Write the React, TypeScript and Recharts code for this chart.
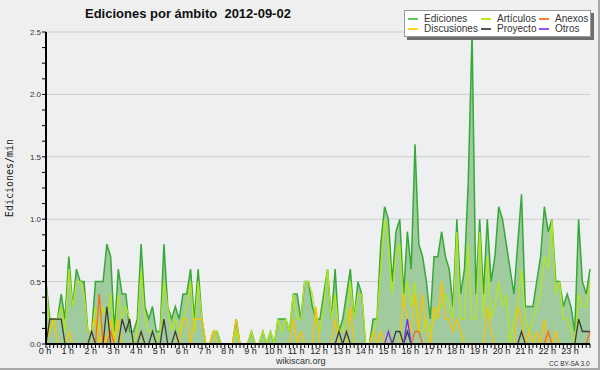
import { ComposedChart, Area, Line, XAxis, YAxis, CartesianGrid } from 'recharts';

// one slot every 10 minutes, 0:00 .. 23:50
const slots = Array.from({ length: 144 }, (_, i) => i);
const hourLabels = ['0 h', '1 h', '2 h', '3 h', '4 h', '5 h', '6 h', '7 h', '8 h', '9 h', '10 h', '11 h',
  '12 h', '13 h', '14 h', '15 h', '16 h', '17 h', '18 h', '19 h', '20 h', '21 h', '22 h', '23 h'];
const yTicks = [0, 0.125, 0.25, 0.375, 0.5, 0.625, 0.75, 0.875, 1, 1.125, 1.25, 1.375, 1.5,
  1.625, 1.75, 1.875, 2, 2.125, 2.25, 2.375, 2.5];
const yGrid = [0.5, 1, 1.5, 2, 2.5];

const ediciones = [
  0.5, 0.2, 0.2, 0.2, 0.4, 0.2, 0.7, 0.3, 0.6, 0.5, 0.5, 0.1,
  0.1, 0.5, 0.5, 0.5, 0.8, 0.7, 0.1, 0.6, 0.4, 0.4, 0.1, 0.1,
  0.2, 0.8, 0.3, 0.2, 0.3, 0.1, 0.1, 0.8, 0.3, 0.2, 0.3, 0.2,
  0.4, 0.4, 0.6, 0.2, 0.6, 0.2, 0, 0, 0.1, 0.1, 0, 0,
  0, 0, 0.2, 0, 0, 0, 0.1, 0, 0, 0.1, 0, 0.1,
  0, 0.2, 0.2, 0.2, 0.1, 0.4, 0.4, 0.2, 0.5, 0.5, 0.3, 0.2,
  0.2, 0.4, 0.6, 0.2, 0.6, 0.1, 0.2, 0.4, 0.6, 0.2, 0.5, 0.4,
  0, 0, 0.2, 0.2, 0.8, 1.1, 1.0, 0.5, 0.9, 1.0, 0.4, 0.9,
  0.6, 1.6, 0.8, 0.7, 0.5, 0.2, 0.7, 0.7, 0.9, 0.7, 0.6, 0.3,
  1.0, 0.4, 0.6, 1.3, 2.5, 0.4, 1.0, 0.4, 1.0, 0.5, 0.7, 1.1,
  1.0, 0.8, 0.6, 0.4, 0.8, 1.2, 0.3, 0.3, 0.3, 0.5, 0.7, 1.1,
  0.9, 1.0, 0.5, 0.5, 0.3, 0.4, 0.3, 0.1, 1.0, 0.5, 0.4, 0.6,
];
const articulos = [
  0.5, 0.1, 0.2, 0.2, 0.3, 0.1, 0.6, 0.3, 0.5, 0.5, 0.4, 0.1,
  0.1, 0.3, 0.1, 0.3, 0.2, 0.4, 0, 0.4, 0.2, 0.3, 0.2, 0,
  0.1, 0.6, 0.2, 0.1, 0.1, 0, 0.1, 0.5, 0.3, 0.1, 0.2, 0.1,
  0.2, 0.3, 0.5, 0.1, 0.5, 0.2, 0, 0, 0.1, 0.1, 0, 0,
  0, 0, 0.1, 0, 0, 0, 0.1, 0, 0, 0.1, 0, 0.1,
  0, 0.2, 0.1, 0.2, 0.1, 0.4, 0.2, 0.2, 0.5, 0.5, 0.4, 0.2,
  0.1, 0.3, 0.6, 0.2, 0.4, 0.1, 0.1, 0.2, 0.5, 0.2, 0.4, 0.4,
  0, 0, 0.1, 0.2, 0.6, 1.0, 0.8, 0.4, 0.7, 0.8, 0.3, 0.5,
  0.3, 0.5, 0.1, 0.1, 0.2, 0.1, 0.2, 0.3, 0.3, 0.4, 0.3, 0.2,
  0.9, 0.2, 0.2, 0.8, 0.2, 0.2, 0.9, 0.2, 0.7, 0.2, 0.3, 0.5,
  0.3, 0.4, 0, 0.2, 0.3, 0.6, 0.2, 0.1, 0.2, 0.3, 0.4, 0.7,
  0.6, 1.0, 0.4, 0.5, 0.2, 0.2, 0.1, 0, 0.4, 0.3, 0.3, 0.5,
];
const discusiones = [
  0, 0.1, 0.2, 0, 0, 0, 0.1, 0, 0, 0, 0, 0,
  0.1, 0.2, 0, 0.1, 0, 0.2, 0, 0.2, 0, 0, 0, 0,
  0, 0.1, 0, 0, 0, 0, 0, 0, 0, 0, 0.1, 0,
  0.2, 0.2, 0, 0.2, 0.2, 0.2, 0, 0, 0.1, 0, 0, 0,
  0, 0, 0.2, 0, 0, 0, 0, 0, 0, 0, 0, 0,
  0, 0, 0, 0, 0, 0.2, 0, 0.1, 0, 0, 0, 0.3,
  0, 0, 0, 0, 0.2, 0, 0, 0, 0.3, 0, 0, 0,
  0, 0, 0.1, 0, 0.1, 0, 0.1, 0, 0, 0, 0.4, 0.2,
  0.1, 0.4, 0.1, 0.4, 0.1, 0, 0.3, 0.2, 0.5, 0.2, 0.2, 0.1,
  0.2, 0.1, 0, 0, 0, 0, 0, 0, 0.3, 0.1, 0, 0,
  0, 0, 0, 0, 0.3, 0.2, 0, 0.1, 0, 0.1, 0, 0.2,
  0, 0, 0.1, 0, 0, 0, 0, 0, 0, 0, 0, 0,
];
const anexos = [
  0, 0, 0, 0, 0, 0, 0, 0, 0, 0, 0, 0,
  0, 0, 0.4, 0, 0, 0.1, 0, 0, 0, 0, 0, 0,
  0, 0, 0, 0, 0, 0, 0, 0, 0, 0, 0, 0,
  0, 0, 0, 0, 0, 0, 0, 0, 0, 0, 0, 0,
  0, 0, 0, 0, 0, 0, 0, 0, 0, 0, 0, 0,
  0, 0, 0, 0, 0, 0, 0, 0, 0, 0, 0, 0,
  0, 0, 0, 0, 0, 0, 0, 0, 0, 0, 0, 0,
  0, 0, 0, 0, 0, 0, 0, 0, 0, 0, 0, 0,
  0, 0.1, 0.1, 0, 0, 0, 0, 0, 0, 0, 0, 0,
  0, 0, 0, 0, 0, 0, 0, 0, 0, 0, 0, 0,
  0, 0, 0, 0, 0, 0, 0, 0, 0, 0, 0, 0,
  0.1, 0, 0, 0, 0, 0, 0, 0, 0, 0, 0, 0.1,
];
const proyecto = [
  0, 0.2, 0.2, 0.2, 0.2, 0, 0, 0, 0, 0, 0, 0,
  0.1, 0, 0, 0, 0.3, 0, 0, 0, 0.2, 0.1, 0.2, 0,
  0, 0.1, 0, 0, 0.1, 0, 0, 0.2, 0, 0, 0.1, 0,
  0, 0, 0, 0, 0, 0, 0, 0, 0, 0, 0, 0,
  0, 0, 0, 0, 0, 0, 0, 0, 0, 0, 0, 0,
  0, 0, 0, 0, 0, 0, 0, 0, 0, 0, 0, 0,
  0, 0, 0, 0, 0, 0.1, 0, 0.1, 0, 0, 0, 0,
  0, 0, 0, 0, 0, 0, 0, 0, 0.1, 0.1, 0, 0.1,
  0, 0, 0, 0, 0, 0, 0, 0, 0, 0, 0, 0,
  0, 0, 0, 0, 0, 0, 0, 0, 0, 0, 0, 0,
  0, 0, 0, 0, 0, 0.1, 0, 0, 0, 0, 0, 0,
  0, 0, 0, 0, 0, 0, 0, 0, 0.2, 0.1, 0.1, 0.1,
];
const otros = [
  0, 0, 0, 0, 0, 0, 0, 0, 0, 0, 0, 0,
  0, 0, 0, 0, 0, 0, 0, 0, 0, 0, 0, 0,
  0, 0, 0, 0, 0, 0, 0, 0, 0, 0, 0, 0,
  0, 0, 0, 0, 0, 0, 0, 0, 0, 0, 0, 0,
  0, 0, 0, 0, 0, 0, 0, 0, 0, 0, 0, 0,
  0, 0, 0, 0, 0, 0, 0, 0, 0, 0, 0, 0,
  0, 0, 0, 0, 0, 0, 0, 0, 0, 0, 0, 0,
  0, 0, 0, 0, 0, 0, 0.1, 0, 0, 0, 0, 0.2,
  0, 0, 0, 0, 0, 0, 0, 0, 0, 0, 0, 0,
  0, 0, 0, 0, 0, 0, 0, 0, 0, 0, 0, 0,
  0, 0, 0, 0, 0, 0, 0, 0, 0, 0, 0, 0,
  0, 0, 0, 0, 0, 0, 0, 0, 0, 0, 0, 0,
];

const data = slots.map((i) => ({
  i,
  ediciones: ediciones[i],
  articulos: articulos[i],
  discusiones: discusiones[i],
  anexos: anexos[i],
  proyecto: proyecto[i],
  otros: otros[i],
}));

const legendItems = [
  { name: 'Ediciones', color: '#5fc85f', left: 408, top: 14 },
  { name: 'Artículos', color: '#b6e61e', left: 481, top: 14 },
  { name: 'Anexos', color: '#ff7a3c', left: 539, top: 14 },
  { name: 'Discusiones', color: '#ffd21f', left: 408, top: 24 },
  { name: 'Proyecto', color: '#555555', left: 481, top: 24 },
  { name: 'Otros', color: '#9a4dff', left: 539, top: 24 },
];

const sans = '"Liberation Sans", Arial, sans-serif';

function XTick({ x, y, payload }: any) {
  const i = payload.value;
  const major = i % 6 === 0;
  return (
    <g>
      <line x1={x} x2={x} y1={y} y2={y + 4} stroke="#000" strokeWidth={1} />
      {major && (
        <text x={x - 1} y={y + 10} textAnchor="middle" fontSize={9} fontFamily={sans} fill="#222">
          {hourLabels[i / 6]}
        </text>
      )}
    </g>
  );
}

function YTick({ x, y, payload }: any) {
  const v = payload.value;
  const major = Math.abs(v * 2 - Math.round(v * 2)) < 1e-6;
  return (
    <g>
      <line x1={x - 4} x2={x} y1={y} y2={y} stroke="#000" strokeWidth={1} />
      {major && (
        <text x={x - 5} y={y + 3} textAnchor="end" fontSize={8} fontFamily={sans} fill="#333">
          {v.toFixed(1)}
        </text>
      )}
    </g>
  );
}

export default function App() {
  return (
    <div style={{ position: 'relative', width: 600, height: 370, background: '#efefef', fontFamily: sans }}>
      <style>{'body{margin:0}'}</style>
      <ComposedChart width={600} height={370} data={data} margin={{ top: 32, right: 10, bottom: 0, left: 0 }}>
        <CartesianGrid horizontal vertical={false} horizontalValues={yGrid} stroke="#cdcdcd" fill="#eeeff1" />
        <XAxis
          dataKey="i"
          type="number"
          domain={[0, 143]}
          ticks={slots}
          interval={0}
          height={26}
          tickSize={0}
          tickMargin={0}
          tick={<XTick />}
          axisLine={{ stroke: '#000', strokeWidth: 2 }}
          tickLine={false}
        />
        <YAxis
          type="number"
          domain={[0, 2.5]}
          ticks={yTicks}
          interval={0}
          width={46}
          tickSize={0}
          tickMargin={0}
          tick={<YTick />}
          axisLine={{ stroke: '#000', strokeWidth: 2 }}
          tickLine={false}
        />
        <Area type="linear" dataKey="ediciones" stroke="#36a936" strokeWidth={1.5} fill="#9fcb9f" fillOpacity={1} dot={false} activeDot={false} isAnimationActive={false} />
        <Line type="linear" dataKey="articulos" stroke="#b4e61c" strokeWidth={1.3} dot={false} activeDot={false} isAnimationActive={false} />
        <Line type="linear" dataKey="discusiones" stroke="#f8c400" strokeWidth={1.3} dot={false} activeDot={false} isAnimationActive={false} />
        <Line type="linear" dataKey="anexos" stroke="#ff6a1a" strokeWidth={1.3} dot={false} activeDot={false} isAnimationActive={false} />
        <Line type="linear" dataKey="proyecto" stroke="#3c3c3c" strokeWidth={1.3} dot={false} activeDot={false} isAnimationActive={false} />
        <Line type="linear" dataKey="otros" stroke="#7a2cf0" strokeWidth={1.3} dot={false} activeDot={false} isAnimationActive={false} />
      </ComposedChart>

      <div style={{ position: 'absolute', left: 85, top: 7, fontSize: 13, fontWeight: 'bold', lineHeight: '13px', color: '#111', whiteSpace: 'pre' }}>
        {'Ediciones por ámbito  2012-09-02'}
      </div>
      <div style={{ position: 'absolute', left: 10, top: 178, transform: 'translate(-50%, -50%) rotate(-90deg)', fontFamily: '"DejaVu Sans Mono", monospace', fontSize: 10, lineHeight: '10px', color: '#222', whiteSpace: 'nowrap' }}>
        Ediciones/min
      </div>
      <div style={{ position: 'absolute', left: 276, top: 357, fontSize: 9, lineHeight: '9px', color: '#333' }}>wikiscan.org</div>
      <div style={{ position: 'absolute', left: 549, top: 360, fontSize: 6.5, lineHeight: '7px', color: '#333' }}>CC BY-SA 3.0</div>

      <div style={{ position: 'absolute', left: 404, top: 10, width: 187, height: 27, background: '#fff', border: '1px solid #9a9a9a', boxSizing: 'border-box', boxShadow: '3px 3px 0 #6e6e6e' }} />
      {legendItems.map((it) => (
        <div key={it.name} style={{ position: 'absolute', left: it.left, top: it.top, height: 10, display: 'flex', alignItems: 'center', fontSize: 10, lineHeight: '10px', color: '#333', whiteSpace: 'nowrap' }}>
          <span style={{ display: 'inline-block', width: 10, height: 1.5, background: it.color, marginRight: 6 }} />
          {it.name}
        </div>
      ))}
      <div style={{ position: 'absolute', left: 0, top: 0, width: 600, height: 370, boxSizing: 'border-box', borderRight: '2px solid #a8a8a8', borderBottom: '2px solid #a8a8a8', pointerEvents: 'none' }} />
    </div>
  );
}
